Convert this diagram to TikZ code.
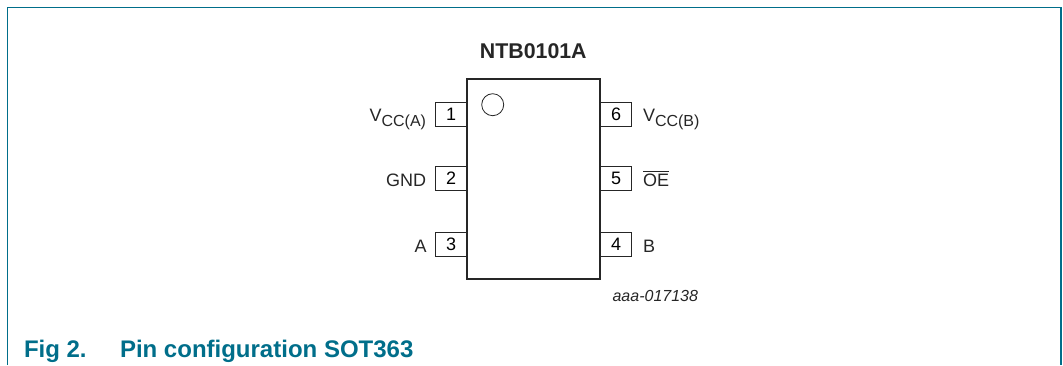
\documentclass[tikz,border=0pt]{standalone}
\usepackage{fontspec}
\setmainfont{Liberation Sans}
\usetikzlibrary{positioning}
\definecolor{nxpteal}{HTML}{006E8A}

\begin{document}
\begin{tikzpicture}[x = 0.75pt, y = -0.75pt, % reference pixels
                node distance = 48pt, % distance between pins
                semithick % line style
            ]

            \tikzstyle{every node}=[inner sep = 0pt, outer sep = 0pt]
            \tikzstyle{pinbox}=[draw = black!85, line width = 0.75pt,
            minimum width = 23.6pt, minimum height = 17.4pt,
            font = \fontsize{13.5pt}{16pt}\selectfont]
            \tikzstyle{pinlabel}=[text = black!85,
            font = \fontsize{13.5pt}{16pt}\selectfont]

            \useasboundingbox (0,0) rectangle (1063,365);

            \draw[nxpteal, line width = 0.9pt] (7.5,365) -- (7.5,7.5) --
            (1061,7.5) -- (1061,365);

            % pins first, the package outline goes over their inner side
            \node (1) [pinbox] at (451,114.4) {1}; \node (2) [pinbox, below
                of=1] {2}; \node (3) [pinbox, below of=2, node distance =
                49.5pt] {3};
            \node (6) [pinbox] at (616,114.4) {6}; \node (5) [pinbox, below
                of=6] {5}; \node (4) [pinbox, below of=5, node distance =
                49.5pt] {4};

            \node (chip) [draw = black!85, line width = 1.6pt, fill = white,
            minimum width = 100pt, minimum height = 150pt] at (533.3,179.3) {};
            \node (dot) [draw = black!85, circle, line width = 0.6pt,
            minimum size = 16.5pt] at (492.7,104.7) {};

            \node (title) [anchor = base, text = black!85, font =
            \fontsize{16pt}{18pt}\selectfont\bfseries] at (533.3,58) {NTB0101A};

            \node (vcca) [pinlabel, anchor = base east] at (426,121)
            {V\raisebox{-0.28em}{\fontsize{12pt}{14pt}\selectfont CC(A)}};
            \node (gnd) [pinlabel, anchor = base east] at (426,186) {GND};
            \node (a) [pinlabel, anchor = base east] at (426.7,252) {A};
            \node (vccb) [pinlabel, anchor = base west] at (643,121)
            {V\raisebox{-0.28em}{\fontsize{12pt}{14pt}\selectfont CC(B)}};
            \node (oe) [pinlabel, anchor = base west] at (643,186)
            {$\overline{\mbox{OE}}$};
            \node (b) [pinlabel, anchor = base west] at (643,252) {B};

            \node (code) [anchor = base east, text = black!85, font =
            \fontsize{12pt}{14pt}\selectfont\itshape] at (698,301.6)
            {aaa-017138};

            \node (fig) [anchor = base west, text = nxpteal, font =
            \fontsize{18pt}{20pt}\selectfont\bfseries] at (24,357) {Fig 2.};
            \node (caption) [anchor = base west, text = nxpteal, font =
            \fontsize{18pt}{20pt}\selectfont\bfseries] at (120,357)
            {Pin configuration SOT363};
\end{tikzpicture}
\end{document}
